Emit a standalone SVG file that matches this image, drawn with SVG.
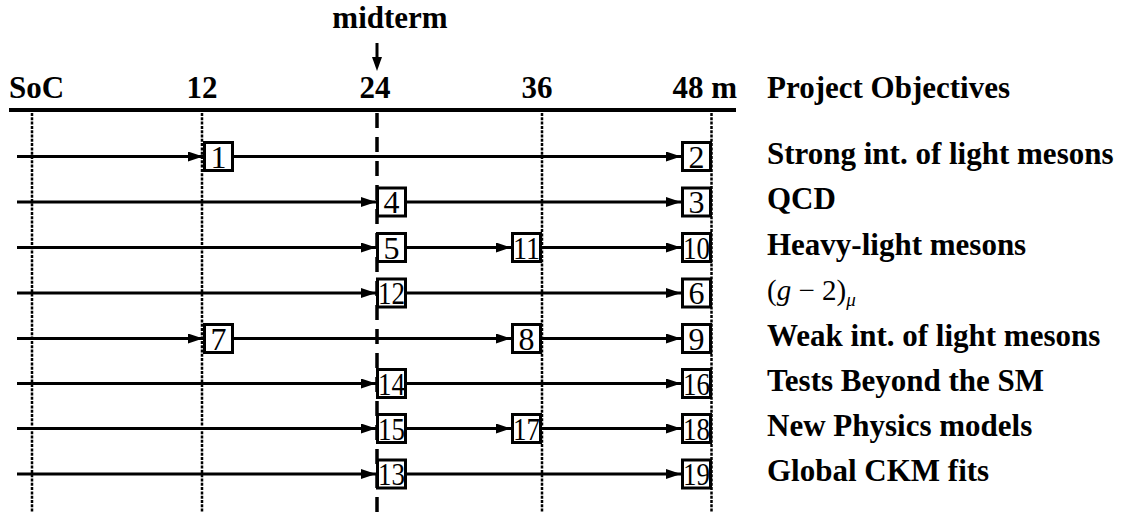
<svg xmlns="http://www.w3.org/2000/svg" width="1127" height="518" viewBox="0 0 1127 518">
  <style>
    .hdr { font-family: "Liberation Serif", "Times New Roman", serif; font-weight: bold; font-size: 31px; fill: #000; }
    .obj { font-family: "Liberation Serif", "Times New Roman", serif; font-weight: bold; font-size: 31px; fill: #000; }
    .math { font-family: "Liberation Serif", "Times New Roman", serif; font-size: 29px; fill: #000; }
    .box rect { fill: #fff; stroke: #000; stroke-width: 3; }
    .box text { font-family: "Liberation Serif", "Times New Roman", serif; font-size: 32px; fill: #000; text-anchor: middle; }
    .dot { stroke: #000; stroke-width: 2.5; stroke-dasharray: 3 1.3; fill: none; }
    .dash { stroke: #000; stroke-width: 3.5; stroke-dasharray: 15 9; fill: none; }
    .conn line { stroke: #000; stroke-width: 3; marker-end: url(#arr); }
  </style>
  <defs>
    <marker id="arr" markerUnits="userSpaceOnUse" markerWidth="15" markerHeight="10" refX="15" refY="5" orient="auto">
      <path d="M0,0 L15,5 L0,10 z" fill="#000"/>
    </marker>
  </defs>

  <!-- time axis -->
  <g id="axis">
    <line x1="9" y1="110" x2="736" y2="110" stroke="#000" stroke-width="4"/>
    <text class="hdr" x="9" y="98">SoC</text>
    <text class="hdr" x="202" y="98" text-anchor="middle">12</text>
    <text class="hdr" x="375" y="98" text-anchor="middle">24</text>
    <text class="hdr" x="537" y="98" text-anchor="middle">36</text>
    <text class="hdr" x="737" y="98" text-anchor="end">48 m</text>
    <text class="hdr" x="767" y="98">Project Objectives</text>
  </g>

  <!-- midterm marker -->
  <g id="midterm">
    <text class="hdr" x="390" y="28" text-anchor="middle">midterm</text>
    <line x1="377" y1="43" x2="377" y2="58" stroke="#000" stroke-width="3"/>
    <path d="M372,57 L382,57 L377,71 z" fill="#000"/>
  </g>

  <!-- month guide lines -->
  <g id="guides">
    <line class="dot" x1="32" y1="113" x2="32" y2="513"/>
    <line class="dot" x1="202" y1="113" x2="202" y2="513"/>
    <line class="dot" x1="542" y1="113" x2="542" y2="513"/>
    <line class="dot" x1="711.5" y1="113" x2="711.5" y2="513"/>
    <line class="dash" x1="377" y1="113" x2="377" y2="518"/>
  </g>

  <!-- connectors -->
  <g id="connectors" class="conn">
    <!-- row 1 -->
    <line x1="17" y1="156.5" x2="203" y2="156.5"/>
    <line x1="234" y1="156.5" x2="681" y2="156.5"/>
    <!-- row 2 -->
    <line x1="17" y1="202" x2="376" y2="202"/>
    <line x1="407" y1="202" x2="681" y2="202"/>
    <!-- row 3 -->
    <line x1="17" y1="247.5" x2="376" y2="247.5"/>
    <line x1="407" y1="247.5" x2="511" y2="247.5"/>
    <line x1="542" y1="247.5" x2="681" y2="247.5"/>
    <!-- row 4 -->
    <line x1="17" y1="293" x2="376" y2="293"/>
    <line x1="407" y1="293" x2="681" y2="293"/>
    <!-- row 5 -->
    <line x1="17" y1="338.5" x2="203" y2="338.5"/>
    <line x1="234" y1="338.5" x2="511" y2="338.5"/>
    <line x1="542" y1="338.5" x2="681" y2="338.5"/>
    <!-- row 6 -->
    <line x1="17" y1="383.5" x2="376" y2="383.5"/>
    <line x1="407" y1="383.5" x2="681" y2="383.5"/>
    <!-- row 7 -->
    <line x1="17" y1="428.5" x2="376" y2="428.5"/>
    <line x1="407" y1="428.5" x2="511" y2="428.5"/>
    <line x1="542" y1="428.5" x2="681" y2="428.5"/>
    <!-- row 8 -->
    <line x1="17" y1="474" x2="376" y2="474"/>
    <line x1="407" y1="474" x2="681" y2="474"/>
  </g>

  <!-- milestone boxes -->
  <g id="n1" class="box"><rect x="204.5" y="142.5" width="28" height="28"/><text x="218.5" y="167.5">1</text></g>
  <g id="n2" class="box"><rect x="682.5" y="142.5" width="28" height="28"/><text x="696.5" y="167.5">2</text></g>
  <g id="n4" class="box"><rect x="377.5" y="188" width="28" height="28"/><text x="391.5" y="213">4</text></g>
  <g id="n3" class="box"><rect x="682.5" y="188" width="28" height="28"/><text x="696.5" y="213">3</text></g>
  <g id="n5" class="box"><rect x="377.5" y="233.5" width="28" height="28"/><text x="391.5" y="258.5">5</text></g>
  <g id="n11" class="box"><rect x="512.5" y="233.5" width="28" height="28"/><text x="526.5" y="258.5" textLength="27" lengthAdjust="spacingAndGlyphs">11</text></g>
  <g id="n10" class="box"><rect x="682.5" y="233.5" width="28" height="28"/><text x="696.5" y="258.5" textLength="27" lengthAdjust="spacingAndGlyphs">10</text></g>
  <g id="n12" class="box"><rect x="377.5" y="279" width="28" height="28"/><text x="391.5" y="304" textLength="27" lengthAdjust="spacingAndGlyphs">12</text></g>
  <g id="n6" class="box"><rect x="682.5" y="279" width="28" height="28"/><text x="696.5" y="304">6</text></g>
  <g id="n7" class="box"><rect x="204.5" y="324.5" width="28" height="28"/><text x="218.5" y="349.5">7</text></g>
  <g id="n8" class="box"><rect x="512.5" y="324.5" width="28" height="28"/><text x="526.5" y="349.5">8</text></g>
  <g id="n9" class="box"><rect x="682.5" y="324.5" width="28" height="28"/><text x="696.5" y="349.5">9</text></g>
  <g id="n14" class="box"><rect x="377.5" y="369.5" width="28" height="28"/><text x="391.5" y="394.5" textLength="27" lengthAdjust="spacingAndGlyphs">14</text></g>
  <g id="n16" class="box"><rect x="682.5" y="369.5" width="28" height="28"/><text x="696.5" y="394.5" textLength="27" lengthAdjust="spacingAndGlyphs">16</text></g>
  <g id="n15" class="box"><rect x="377.5" y="414.5" width="28" height="28"/><text x="391.5" y="439.5" textLength="27" lengthAdjust="spacingAndGlyphs">15</text></g>
  <g id="n17" class="box"><rect x="512.5" y="414.5" width="28" height="28"/><text x="526.5" y="439.5" textLength="27" lengthAdjust="spacingAndGlyphs">17</text></g>
  <g id="n18" class="box"><rect x="682.5" y="414.5" width="28" height="28"/><text x="696.5" y="439.5" textLength="27" lengthAdjust="spacingAndGlyphs">18</text></g>
  <g id="n13" class="box"><rect x="377.5" y="460" width="28" height="28"/><text x="391.5" y="485" textLength="27" lengthAdjust="spacingAndGlyphs">13</text></g>
  <g id="n19" class="box"><rect x="682.5" y="460" width="28" height="28"/><text x="696.5" y="485" textLength="27" lengthAdjust="spacingAndGlyphs">19</text></g>

  <!-- objectives -->
  <g id="objectives">
    <text class="obj" x="767" y="164">Strong int. of light mesons</text>
    <text class="obj" x="767" y="209">QCD</text>
    <text class="obj" x="767" y="254.5">Heavy-light mesons</text>
    <text class="math" x="767" y="300">(<tspan font-style="italic">g</tspan> − 2)<tspan font-style="italic" font-size="19" dy="6">μ</tspan></text>
    <text class="obj" x="767" y="345.5">Weak int. of light mesons</text>
    <text class="obj" x="767" y="390.5">Tests Beyond the SM</text>
    <text class="obj" x="767" y="435.5">New Physics models</text>
    <text class="obj" x="767" y="481">Global CKM fits</text>
  </g>
</svg>
